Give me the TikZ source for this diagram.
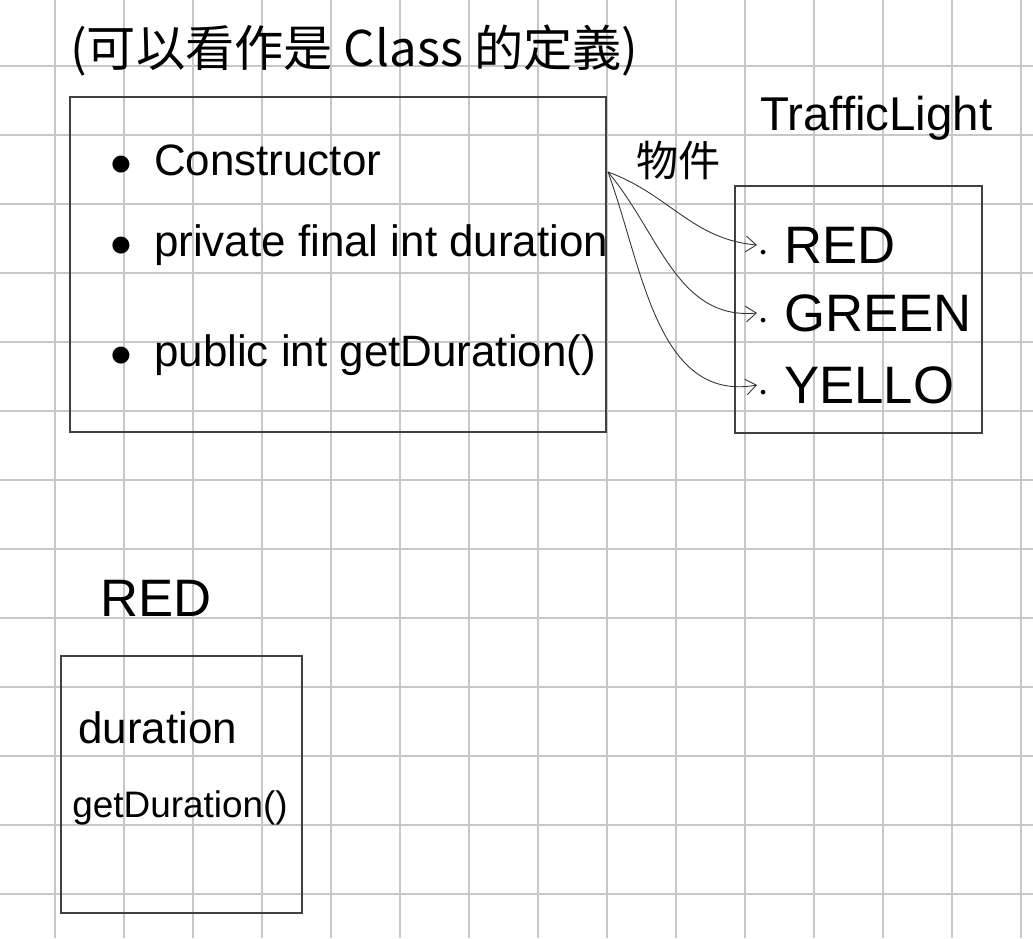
\documentclass[tikz,border=0pt]{standalone}
\usepackage{fontspec}
\setmainfont{Liberation Sans}
\newfontfamily\cjk{Noto Sans CJK TC}
\usetikzlibrary{positioning, arrows.meta}
\tikzset{
  box/.style = {draw=black!75, line width=0.6pt},
  hand/.style = {font=\fontsize{25}{29}\selectfont, anchor=west, inner sep=0pt},
  big/.style = {font=\fontsize{30}{34}\selectfont, anchor=west, inner sep=0pt},
  link/.style = {-{Straight Barb[length=6pt,width=9pt]}, black!80, line width=0.5pt}
}
\begin{document}
\begin{tikzpicture}[x=0.02cm, y=-0.02cm]
  \useasboundingbox (0,0) rectangle (1033,938);
  % grid
  \foreach \gx in {55,124,...,1033} \draw[black!22, line width=1pt] (\gx,0) -- (\gx,938);
  \foreach \gy in {66,135,...,938} \draw[black!22, line width=1pt] (0,\gy) -- (1033,\gy);

  % class box
  \node (title) [hand, font=\cjk\fontsize{28}{32}\selectfont] at (70,50) {(可以看作是 Class 的定義)};
  \draw[box] (70,97) rectangle (606,432);
  \node (ctor) [hand] at (110,160) {$\bullet$\enspace Constructor};
  \node (field) [hand] at (110,245) {$\bullet$\enspace private final int duration};
  \node (getter) [hand] at (110,355) {$\bullet$\enspace public int getDuration()};

  % enum box
  \node (tl) [big, font=\fontsize{27}{31}\selectfont] at (760,118) {TrafficLight};
  \draw[box] (735,186) rectangle (982,433);
  \node (red) [big] at (757,245) {$\cdot$ RED};
  \node (green) [big] at (757,313) {$\cdot$ GREEN};
  \node (yello) [big] at (757,385) {$\cdot$ YELLO};
  \node (obj) [hand, font=\cjk\fontsize{24}{28}\selectfont] at (636,160) {物件};

  \coordinate (src) at (608,172);
  \draw[link] (src) to[out=-20, in=175] (red.west);
  \draw[link] (src) to[out=-50, in=185] (green.west);
  \draw[link] (src) to[out=-70, in=190] (yello.west);

  % instance
  \node (inst) [big] at (100,598) {RED};
  \draw[box] (61,656) rectangle (302,913);
  \node (dur) [hand] at (78,728) {duration};
  \node (getd) [hand, font=\fontsize{21}{25}\selectfont] at (72,808) {getDuration()};
\end{tikzpicture}
\end{document}
